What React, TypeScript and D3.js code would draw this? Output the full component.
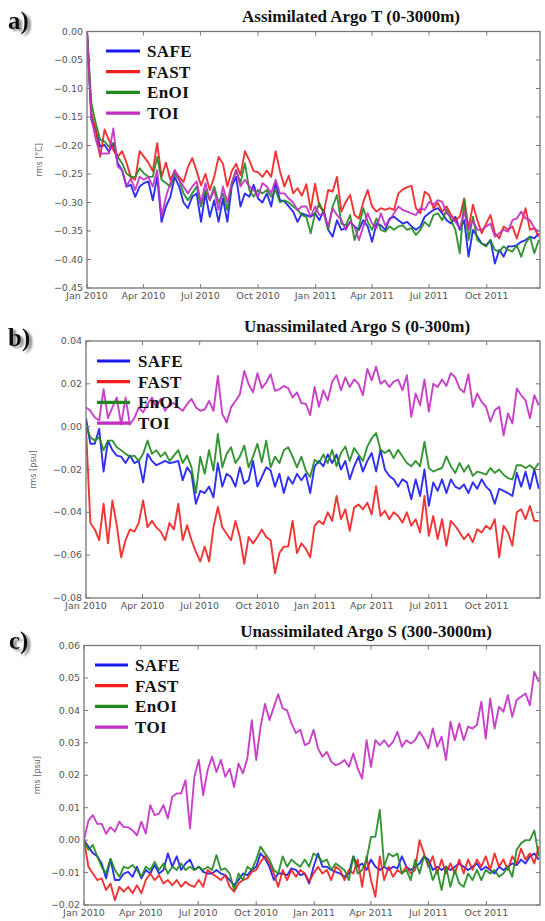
import * as d3 from "d3";
import React from "react";

// weekly samples, Jan 2010 - Dec 2011
const START = new Date(2010, 0, 1);
const END = new Date(2011, 11, 25);
const STEP_DAYS = 7;

const seriesNames = ["SAFE", "FAST", "EnOI", "TOI"];
const seriesColors = ["#1818f0", "#f01e1e", "#1f891f", "#c22dc2"];

// a) Assimilated Argo T (0-3000m)
const safeT = [
  0, -0.155, -0.173, -0.202, -0.199, -0.211, -0.196, -0.231, -0.243, -0.272, -0.269, -0.29, -0.272,
  -0.266, -0.263, -0.296, -0.255, -0.334, -0.307, -0.29, -0.255, -0.272, -0.3, -0.31, -0.29, -0.284,
  -0.334, -0.284, -0.325, -0.296, -0.334, -0.293, -0.334, -0.272, -0.255, -0.307, -0.284, -0.29, -0.269,
  -0.293, -0.3, -0.284, -0.307, -0.266, -0.296, -0.298, -0.307, -0.316, -0.334, -0.319, -0.322, -0.325,
  -0.319, -0.331, -0.313, -0.348, -0.36, -0.331, -0.348, -0.345, -0.334, -0.342, -0.348, -0.331, -0.342,
  -0.369, -0.337, -0.34, -0.348, -0.328, -0.325, -0.331, -0.337, -0.334, -0.342, -0.348, -0.342, -0.325,
  -0.319, -0.313, -0.31, -0.319, -0.331, -0.337, -0.325, -0.348, -0.331, -0.395, -0.348, -0.36, -0.372,
  -0.375, -0.366, -0.407, -0.383, -0.395, -0.377, -0.377, -0.375, -0.369, -0.366, -0.36, -0.363, -0.354,
];
const fastT = [
  0, -0.143, -0.173, -0.22, -0.172, -0.19, -0.208, -0.22, -0.21, -0.23, -0.255, -0.26, -0.21,
  -0.22, -0.23, -0.245, -0.196, -0.255, -0.23, -0.26, -0.245, -0.255, -0.264, -0.238, -0.222, -0.245,
  -0.27, -0.25, -0.278, -0.255, -0.22, -0.232, -0.272, -0.245, -0.232, -0.252, -0.21, -0.226, -0.245,
  -0.247, -0.255, -0.244, -0.255, -0.21, -0.245, -0.272, -0.253, -0.284, -0.275, -0.288, -0.268, -0.313,
  -0.267, -0.307, -0.316, -0.278, -0.281, -0.255, -0.316, -0.299, -0.287, -0.322, -0.328, -0.299, -0.278,
  -0.307, -0.316, -0.31, -0.313, -0.31, -0.313, -0.284, -0.277, -0.273, -0.271, -0.31, -0.319, -0.281,
  -0.287, -0.31, -0.301, -0.316, -0.307, -0.322, -0.331, -0.325, -0.293, -0.345, -0.304, -0.331, -0.354,
  -0.337, -0.322, -0.354, -0.363, -0.342, -0.348, -0.342, -0.363, -0.337, -0.31, -0.348, -0.345, -0.36,
];
const enoiT = [
  0, -0.126, -0.161, -0.19, -0.193, -0.202, -0.196, -0.22, -0.231, -0.249, -0.255, -0.255, -0.24,
  -0.249, -0.255, -0.255, -0.22, -0.26, -0.266, -0.272, -0.249, -0.26, -0.284, -0.296, -0.284, -0.272,
  -0.307, -0.278, -0.296, -0.272, -0.3, -0.284, -0.313, -0.266, -0.243, -0.266, -0.231, -0.278, -0.29,
  -0.278, -0.284, -0.278, -0.29, -0.278, -0.3, -0.296, -0.3, -0.307, -0.313, -0.322, -0.325, -0.354,
  -0.319, -0.301, -0.319, -0.348, -0.307, -0.287, -0.337, -0.34, -0.322, -0.366, -0.342, -0.31, -0.334,
  -0.348, -0.328, -0.348, -0.351, -0.342, -0.348, -0.342, -0.34, -0.348, -0.345, -0.357, -0.348, -0.334,
  -0.342, -0.322, -0.319, -0.331, -0.313, -0.331, -0.348, -0.389, -0.295, -0.366, -0.325, -0.366, -0.372,
  -0.377, -0.366, -0.383, -0.386, -0.377, -0.383, -0.386, -0.375, -0.395, -0.372, -0.36, -0.389, -0.366,
];
const toiT = [
  0, -0.152, -0.19, -0.214, -0.214, -0.214, -0.17, -0.237, -0.243, -0.272, -0.258, -0.278, -0.255,
  -0.26, -0.255, -0.272, -0.243, -0.325, -0.29, -0.266, -0.243, -0.26, -0.272, -0.284, -0.272, -0.263,
  -0.3, -0.266, -0.296, -0.278, -0.313, -0.272, -0.3, -0.266, -0.243, -0.272, -0.26, -0.272, -0.278,
  -0.29, -0.266, -0.272, -0.284, -0.26, -0.284, -0.284, -0.293, -0.3, -0.313, -0.307, -0.307, -0.325,
  -0.307, -0.322, -0.319, -0.342, -0.31, -0.322, -0.331, -0.348, -0.334, -0.342, -0.366, -0.342, -0.319,
  -0.337, -0.345, -0.319, -0.34, -0.331, -0.319, -0.307, -0.313, -0.316, -0.319, -0.322, -0.31, -0.313,
  -0.299, -0.304, -0.296, -0.299, -0.319, -0.325, -0.334, -0.345, -0.316, -0.348, -0.331, -0.348, -0.348,
  -0.342, -0.337, -0.36, -0.354, -0.348, -0.351, -0.331, -0.328, -0.316, -0.328, -0.331, -0.345, -0.351,
];

// b) Unassimilated Argo S (0-300m)
const safeS1 = [
  0.004, -0.008, -0.008, -0.001, -0.021, -0.0065, -0.011, -0.0135, -0.014, -0.017, -0.0135, -0.017, -0.016,
  -0.026, -0.0127, -0.016, -0.018, -0.017, -0.016, -0.017, -0.0166, -0.016, -0.025, -0.019, -0.022, -0.036,
  -0.03, -0.031, -0.028, -0.033, -0.017, -0.028, -0.022, -0.0235, -0.028, -0.019, -0.0267, -0.025, -0.016,
  -0.028, -0.0235, -0.019, -0.0205, -0.028, -0.022, -0.031, -0.0235, -0.0267, -0.022, -0.025, -0.022, -0.031,
  -0.0185, -0.016, -0.0185, -0.013, -0.017, -0.013, -0.02, -0.016, -0.0246, -0.0185, -0.014, -0.021, -0.016,
  -0.0123, -0.021, -0.0108, -0.02, -0.023, -0.0246, -0.028, -0.0246, -0.026, -0.0339, -0.0246, -0.0324, -0.02,
  -0.037, -0.026, -0.03, -0.0246, -0.031, -0.0246, -0.028, -0.029, -0.027, -0.031, -0.026, -0.029, -0.0246,
  -0.028, -0.03, -0.036, -0.029, -0.03, -0.031, -0.0324, -0.0215, -0.028, -0.021, -0.029, -0.02, -0.029,
];
const fastS1 = [
  -0.001, -0.045, -0.048, -0.053, -0.036, -0.0545, -0.0345, -0.046, -0.061, -0.053, -0.048, -0.049, -0.045,
  -0.0345, -0.047, -0.044, -0.047, -0.049, -0.053, -0.045, -0.048, -0.036, -0.053, -0.046, -0.053, -0.0585,
  -0.063, -0.056, -0.063, -0.047, -0.0375, -0.047, -0.05, -0.053, -0.044, -0.0515, -0.064, -0.0515, -0.0545,
  -0.0515, -0.048, -0.0515, -0.053, -0.0685, -0.059, -0.056, -0.056, -0.044, -0.059, -0.0545, -0.057, -0.061,
  -0.0463, -0.044, -0.0455, -0.04, -0.044, -0.0324, -0.0432, -0.0386, -0.0486, -0.0378, -0.0363, -0.0386, -0.0355,
  -0.041, -0.0278, -0.0417, -0.0393, -0.0432, -0.04, -0.0417, -0.0448, -0.04, -0.0463, -0.0432, -0.0494, -0.0324,
  -0.051, -0.0417, -0.0525, -0.0432, -0.0556, -0.044, -0.0463, -0.0494, -0.0525, -0.05, -0.054, -0.0479, -0.0494,
  -0.0463, -0.0479, -0.0432, -0.061, -0.0463, -0.0494, -0.0556, -0.04, -0.0386, -0.0432, -0.037, -0.044, -0.044,
];
const enoiS1 = [
  0.0, -0.005, -0.0065, -0.005, -0.011, -0.0065, -0.0065, -0.0096, -0.011, -0.0127, -0.014, -0.0135, -0.016,
  -0.0127, -0.0065, -0.0127, -0.011, -0.014, -0.012, -0.016, -0.0135, -0.011, -0.017, -0.0135, -0.019, -0.031,
  -0.014, -0.022, -0.011, -0.0205, -0.0034, -0.019, -0.0127, -0.0096, -0.017, -0.014, -0.0088, -0.019, -0.014,
  -0.008, -0.0166, -0.0065, -0.019, -0.014, -0.017, -0.011, -0.0096, -0.014, -0.019, -0.014, -0.0205, -0.0235,
  -0.0155, -0.017, -0.013, -0.017, -0.0108, -0.0185, -0.0123, -0.0093, -0.016, -0.01, -0.013, -0.016, -0.0093,
  -0.0054, -0.003, -0.0108, -0.0123, -0.0108, -0.0147, -0.0108, -0.0139, -0.017, -0.0185, -0.016, -0.0185, -0.007,
  -0.0193, -0.021, -0.02, -0.0193, -0.0139, -0.0185, -0.0216, -0.017, -0.021, -0.018, -0.023, -0.021, -0.0216,
  -0.0224, -0.0193, -0.0216, -0.02, -0.0224, -0.024, -0.0247, -0.018, -0.018, -0.0193, -0.018, -0.02, -0.017,
];
const toiS1 = [
  0.009, 0.0074, 0.0043, 0.003, 0.0175, 0.004, 0.009, 0.0136, 0.001, 0.0136, 0.001, 0.004, 0.009,
  0.0067, 0.0105, 0.0136, 0.009, 0.013, 0.0074, 0.0105, 0.011, 0.009, 0.0074, 0.0105, 0.013, 0.009,
  0.0074, 0.008, 0.012, 0.0074, 0.0237, 0.006, 0.002, 0.009, 0.012, 0.015, 0.026, 0.0198, 0.016,
  0.025, 0.018, 0.0206, 0.0245, 0.0167, 0.0175, 0.019, 0.018, 0.0136, 0.016, 0.011, 0.0107, 0.0054,
  0.0185, 0.0093, 0.017, 0.0123, 0.021, 0.024, 0.017, 0.023, 0.0185, 0.022, 0.02, 0.0147, 0.027,
  0.0216, 0.028, 0.02, 0.0216, 0.0185, 0.021, 0.022, 0.017, 0.024, 0.0046, 0.0155, 0.01, 0.022,
  0.007, 0.02, 0.0185, 0.022, 0.019, 0.025, 0.023, 0.0178, 0.016, 0.0245, 0.0093, 0.0155, 0.0116,
  0.0093, 0.0023, 0.0077, 0.0093, -0.004, 0.0062, 0.0015, 0.0178, 0.0147, 0.0123, 0.0039, 0.0147, 0.01,
];

// c) Unassimilated Argo S (300-3000m)
const safeS2 = [
  0.0, -0.002, -0.004, -0.005, -0.0072, -0.0118, -0.006, -0.0123, -0.0123, -0.0103, -0.0098, -0.0113, -0.0082,
  -0.0118, -0.0092, -0.0103, -0.0077, -0.0103, -0.0092, -0.0041, -0.0082, -0.005, -0.0092, -0.0072, -0.006, -0.0092,
  -0.0082, -0.0098, -0.0103, -0.0103, -0.0092, -0.0103, -0.0108, -0.0123, -0.0139, -0.0123, -0.0103, -0.0108, -0.0092,
  -0.0082, -0.0041, -0.0057, -0.0082, -0.0123, -0.0103, -0.0103, -0.0108, -0.0087, -0.0092, -0.0108, -0.0103, -0.0134,
  -0.0082, -0.0041, -0.0082, -0.0082, -0.0092, -0.0098, -0.0103, -0.0113, -0.0103, -0.005, -0.0082, -0.0072, -0.0092,
  -0.006, -0.0082, -0.0092, -0.0082, -0.0092, -0.0082, -0.0087, -0.005, -0.0082, -0.0092, -0.0082, -0.0072, -0.005,
  -0.006, -0.0092, -0.0082, -0.0092, -0.0082, -0.0092, -0.0082, -0.0072, -0.0082, -0.0092, -0.0082, -0.0072, -0.0092,
  -0.0082, -0.0092, -0.0103, -0.0082, -0.0092, -0.0082, -0.0072, -0.0077, -0.006, -0.0072, -0.005, -0.0041, -0.006,
];
const fastS2 = [
  0.0, -0.0082, -0.0103, -0.0123, -0.0118, -0.0154, -0.0134, -0.0185, -0.0144, -0.0159, -0.0144, -0.0164, -0.0139,
  -0.0164, -0.0123, -0.0103, -0.0123, -0.0108, -0.0134, -0.0123, -0.0139, -0.0123, -0.0144, -0.0128, -0.0139, -0.0144,
  -0.0123, -0.0144, -0.0092, -0.0103, -0.0113, -0.0123, -0.0108, -0.0144, -0.0159, -0.0134, -0.0123, -0.0118, -0.0098,
  -0.0092, -0.0067, -0.005, -0.0072, -0.0103, -0.0144, -0.0092, -0.0123, -0.0092, -0.0113, -0.0092, -0.0103, -0.0128,
  -0.0103, -0.0082, -0.0103, -0.0092, -0.0123, -0.0082, -0.0092, -0.0123, -0.0092, -0.0103, -0.006, -0.0144, -0.005,
  -0.0123, -0.0175, -0.005, -0.0123, -0.0082, -0.0113, -0.0092, -0.0103, -0.0082, -0.0103, -0.0092, 0.0, -0.0041,
  -0.0082, -0.005, -0.0103, -0.006, -0.0103, -0.0072, -0.0103, -0.006, -0.0103, -0.006, -0.0092, -0.006, -0.0082,
  -0.005, -0.0092, -0.0041, -0.0082, -0.006, -0.0092, -0.005, -0.0072, -0.0026, -0.006, -0.0041, -0.0072, -0.002,
];
const enoiS2 = [
  0.0, -0.003, -0.0015, -0.005, -0.0082, -0.0103, -0.0057, -0.0092, -0.0113, -0.0082, -0.0087, -0.0077, -0.0092,
  -0.0113, -0.0082, -0.0092, -0.0067, -0.0092, -0.0072, -0.0103, -0.0082, -0.0092, -0.0072, -0.0092, -0.0082, -0.0092,
  -0.0082, -0.0092, -0.0082, -0.0092, -0.0046, -0.0092, -0.0087, -0.0103, -0.0154, -0.0103, -0.0123, -0.0082, -0.0092,
  -0.006, -0.002, -0.0041, -0.006, -0.0092, -0.0103, -0.005, -0.0082, -0.006, -0.0072, -0.0082, -0.006, -0.0082,
  -0.0041, -0.005, -0.0067, -0.006, -0.0092, -0.0072, -0.0082, -0.0092, -0.0123, -0.005, -0.0103, -0.0092, -0.006,
  0.001, 0.001, 0.0093, -0.0082, -0.0041, -0.005, -0.0041, -0.0103, -0.0092, -0.0123, -0.006, -0.0103, -0.005,
  -0.0072, -0.0123, -0.0092, -0.0154, -0.0082, -0.0144, -0.0092, -0.0134, -0.0144, -0.0103, -0.0123, -0.0092, -0.0123,
  -0.0092, -0.0103, -0.0092, -0.0113, -0.0103, -0.0082, -0.0113, -0.003, -0.001, 0.0, 0.0, 0.003, -0.005,
];
const toiS2 = [
  0.0, 0.006, 0.0077, 0.005, 0.005, 0.002, 0.004, 0.0026, 0.0057, 0.004, 0.004, 0.003, 0.0015,
  0.0057, 0.002, 0.0108, 0.0077, 0.0082, 0.0108, 0.0067, 0.0134, 0.0144, 0.0144, 0.0185, 0.0036, 0.0195,
  0.0247, 0.0139, 0.0216, 0.0257, 0.021, 0.0247, 0.0195, 0.022, 0.0164, 0.0236, 0.0206, 0.0252, 0.037,
  0.0247, 0.035, 0.042, 0.037, 0.041, 0.045, 0.0406, 0.04, 0.036, 0.033, 0.034, 0.0293, 0.03,
  0.034, 0.0283, 0.0257, 0.0272, 0.0242, 0.0231, 0.0236, 0.0247, 0.0226, 0.0267, 0.0221, 0.019, 0.0308,
  0.0226, 0.0308, 0.0293, 0.0308, 0.0288, 0.0303, 0.0334, 0.0288, 0.0308, 0.0298, 0.0308, 0.0334, 0.0313,
  0.0283, 0.0344, 0.0288, 0.0319, 0.0247, 0.0365, 0.0308, 0.036, 0.0308, 0.035, 0.0344, 0.0355, 0.0427,
  0.0313, 0.0437, 0.0344, 0.0411, 0.0396, 0.0447, 0.038, 0.0432, 0.0442, 0.0452, 0.0416, 0.0519, 0.0488,
];

const ticksT = [0, -0.05, -0.1, -0.15, -0.2, -0.25, -0.3, -0.35, -0.4, -0.45];
const ticksS1 = [0.04, 0.02, 0, -0.02, -0.04, -0.06, -0.08];
const ticksS2 = [0.06, 0.05, 0.04, 0.03, 0.02, 0.01, 0, -0.01, -0.02];

const panels = [
  {
    label: "a)", title: "Assimilated Argo T (0-3000m)", unit: "rms [°C]",
    series: [safeT, fastT, enoiT, toiT], ticks: ticksT,
    box: { x0: 87, x1: 540, y0: 31.5, y1: 288 },
    labelPos: { x: 8, y: 29 }, titlePos: { x: 351, y: 21.5 }, unitX: 42,
    legend: { x0: 106, x1: 140, tx: 147, y: 51, dy: 20.7 },
  },
  {
    label: "b)", title: "Unassimilated Argo S (0-300m)", unit: "rms [psu]",
    series: [safeS1, fastS1, enoiS1, toiS1], ticks: ticksS1,
    box: { x0: 86, x1: 540, y0: 341, y1: 598 },
    labelPos: { x: 8, y: 346 }, titlePos: { x: 357, y: 331.5 }, unitX: 36,
    legend: { x0: 97, x1: 130, tx: 138, y: 361, dy: 20.7 },
  },
  {
    label: "c)", title: "Unassimilated Argo S (300-3000m)", unit: "rms [psu]",
    series: [safeS2, fastS2, enoiS2, toiS2], ticks: ticksS2,
    box: { x0: 84, x1: 540, y0: 645.5, y1: 905 },
    labelPos: { x: 9, y: 649 }, titlePos: { x: 366, y: 636.5 }, unitX: 40,
    legend: { x0: 95, x1: 128, tx: 135, y: 665, dy: 20.7 },
  },
];

const serif = "'Liberation Serif', 'Times New Roman', serif";
const sans = "'DejaVu Sans', sans-serif";
const fmtY = d3.format(".2f");
const fmtX = d3.timeFormat("%b %Y");

const Panel = ({ p, idx }) => {
  const { box } = p;
  const x = d3.scaleTime().domain([START, END]).range([box.x0, box.x1]);
  const y = d3
    .scaleLinear()
    .domain([d3.min(p.ticks), d3.max(p.ticks)])
    .range([box.y1, box.y0]);
  const xTicks = d3.timeMonth.every(3).range(START, END);
  const line = d3
    .line()
    .x((d, i) => x(d3.timeDay.offset(START, i * STEP_DAYS)))
    .y((d) => y(d));
  const clipId = `clip-${idx}`;

  return (
    <g>
      <defs>
        <clipPath id={clipId}>
          <rect x={box.x0} y={box.y0} width={box.x1 - box.x0} height={box.y1 - box.y0} />
        </clipPath>
      </defs>

      {/* panel letter, shadow comes from the filter */}
      <text x={p.labelPos.x} y={p.labelPos.y} fontFamily={serif} fontWeight="bold"
        fontSize={25} fill="#111" filter="url(#shadow)">{p.label}</text>

      <text x={p.titlePos.x} y={p.titlePos.y} textAnchor="middle" fontFamily={serif}
        fontWeight="bold" fontSize={17} fill="#111">{p.title}</text>

      <g clipPath={`url(#${clipId})`}>
        {p.series.map((vals, i) => (
          <path key={i} d={line(vals)} fill="none" stroke={seriesColors[i]}
            strokeWidth={1.9} strokeLinejoin="round" strokeOpacity={0.9} />
        ))}
      </g>

      <rect x={box.x0} y={box.y0} width={box.x1 - box.x0} height={box.y1 - box.y0}
        fill="none" stroke="#777" strokeWidth={1.3} />

      {xTicks.map((t, i) => (
        <g key={i}>
          <line x1={x(t)} x2={x(t)} y1={box.y1} y2={box.y1 - 4} stroke="#777" />
          <line x1={x(t)} x2={x(t)} y1={box.y0} y2={box.y0 + 4} stroke="#777" />
          <text x={x(t)} y={box.y1 + 10.5} textAnchor="middle" fontFamily={sans}
            fontSize={9.5} fill="#555">{fmtX(t)}</text>
        </g>
      ))}

      {p.ticks.map((t, i) => (
        <g key={i}>
          <line x1={box.x0} x2={box.x0 + 4} y1={y(t)} y2={y(t)} stroke="#777" />
          <line x1={box.x1} x2={box.x1 - 4} y1={y(t)} y2={y(t)} stroke="#777" />
          <text x={box.x0 - 4} y={y(t)} dy="0.33em" textAnchor="end" fontFamily={sans}
            fontSize={9.5} fill="#555">{fmtY(t)}</text>
        </g>
      ))}

      <text transform={`translate(${p.unitX},${(box.y0 + box.y1) / 2}) rotate(-90)`}
        textAnchor="middle" fontFamily={sans} fontSize={8} fill="#666">{p.unit}</text>

      {seriesNames.map((name, i) => {
        const ly = p.legend.y + i * p.legend.dy;
        return (
          <g key={name}>
            <line x1={p.legend.x0} x2={p.legend.x1} y1={ly} y2={ly}
              stroke={seriesColors[i]} strokeWidth={3.2} />
            <text x={p.legend.tx} y={ly + 6} fontFamily={serif} fontWeight="bold"
              fontSize={17} fill="#111" letterSpacing={0.4}>{name}</text>
          </g>
        );
      })}
    </g>
  );
};

const App = () => (
  <svg width={545} height={921} style={{ position: "absolute", left: 0, top: 0, background: "#fff" }}>
    <defs>
      <filter id="shadow" x="-30%" y="-30%" width="160%" height="160%">
        <feGaussianBlur in="SourceAlpha" stdDeviation="1.2" result="blur" />
        <feOffset in="blur" dx="2.5" dy="2" result="off" />
        <feFlood floodColor="#8a8a8a" result="col" />
        <feComposite in="col" in2="off" operator="in" result="sh" />
        <feMerge>
          <feMergeNode in="sh" />
          <feMergeNode in="SourceGraphic" />
        </feMerge>
      </filter>
    </defs>
    <rect width={545} height={921} fill="#fff" />
    {panels.map((p, i) => (
      <Panel key={i} p={p} idx={i} />
    ))}
  </svg>
);

export default App;
